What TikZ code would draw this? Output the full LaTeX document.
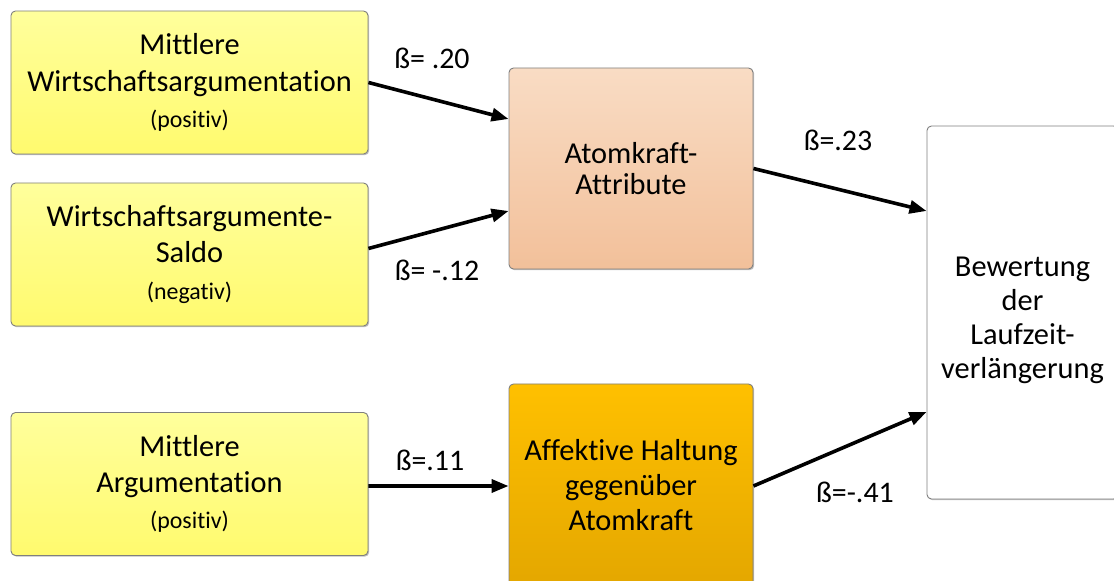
\documentclass[tikz,border=0pt]{standalone}
\usepackage{fontspec}
\setmainfont{Carlito}[Ligatures={NoCommon}]
\usetikzlibrary{arrows.meta,shadows}
\definecolor{yelTop}{HTML}{FFFF9C}
\definecolor{yelBot}{HTML}{FFFA6E}
\definecolor{attTop}{HTML}{F9DCC4}
\definecolor{attBot}{HTML}{F2C09A}
\definecolor{affTop}{HTML}{FFC000}
\definecolor{affBot}{HTML}{E4A700}
\definecolor{frame}{HTML}{7F7F7F}
\begin{document}
\begin{tikzpicture}[x=1bp,y=-1bp,
  box/.style={draw=frame, line width=0.9bp, rounded corners=4.5bp, inner sep=0pt, align=center,
    font=\fontsize{30.5}{36.5}\selectfont,
    drop shadow={shadow xshift=1.2bp, shadow yshift=-1.2bp, opacity=0.25, fill=black}},
  ybox/.style={box, top color=yelTop, bottom color=yelBot, minimum width=357bp, minimum height=143bp},
  txt/.style={inner sep=0pt, align=center},
  lbl/.style={font=\fontsize{30}{36}\selectfont, inner sep=0pt},
  arr/.style={line width=3.6bp, -{Triangle[length=17bp,width=13bp]}}
]
\useasboundingbox (0,0) rectangle (1114,581);
\newcommand{\smalltxt}[1]{{\fontsize{24}{28}\selectfont #1}}

\node[ybox] (b1) at (189.5,82.5) {Mittlere\\Wirtschaftsargumentation\\\smalltxt{(positiv)}};
\node[ybox] (b2) at (189.5,254.5) {Wirtschaftsargumente-\\Saldo\\\smalltxt{(negativ)}};
\node[ybox] (b3) at (189.5,484) {Mittlere\\Argumentation\\\smalltxt{(positiv)}};

\node[box, top color=attTop, bottom color=attBot, minimum width=244bp, minimum height=201bp,
  font=\fontsize{30.5}{31.5}\selectfont] (att) at (631,168.5) {Atomkraft-\\Attribute};
\node[box, top color=affTop, bottom color=affBot, minimum width=244bp, minimum height=202bp,
  font=\fontsize{30.5}{35}\selectfont] (aff) at (631,485) {Affektive Haltung\\gegenüber\\Atomkraft};
\node[box, fill=white, minimum width=191bp, minimum height=373bp] (bew) at (1022.5,312.5) {};
\node[txt, font=\fontsize{30.5}{34.3}\selectfont] (bewtxt) at ([yshift=-8bp]bew.center) {Bewertung\\der\\Laufzeit-\\verlängerung};

\draw[arr] (b1.east) -- ([yshift=49.5bp]att.west);
\draw[arr] ([yshift=6bp]b2.east) -- ([yshift=-42.5bp]att.west);
\draw[arr] ([yshift=-2bp]b3.east) -- ([yshift=-1bp]aff.west);
\draw[arr] (att.east) -- ([yshift=101.5bp]bew.west);
\draw[arr] ([yshift=-1bp]aff.east) -- ([yshift=-99.5bp]bew.west);

\node[lbl] (l1) at (432,58) {ß= .20};
\node[lbl] (l2) at (437,270) {ß= -.12};
\node[lbl] (l3) at (430,460) {ß=.11};
\node[lbl] (l4) at (838,140) {ß=.23};
\node[lbl] (l5) at (855,492) {ß=-.41};
\end{tikzpicture}
\end{document}
